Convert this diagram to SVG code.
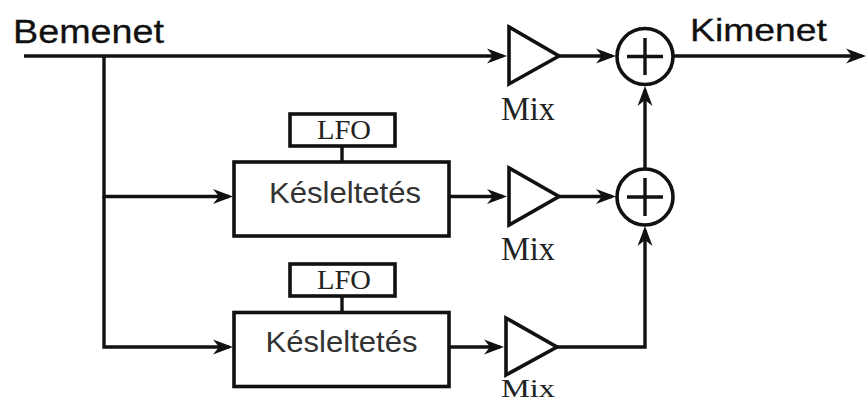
<svg xmlns="http://www.w3.org/2000/svg" width="866" height="403" viewBox="0 0 866 403">
<style>
.ln{fill:none;stroke:#111;stroke-width:3.4;stroke-linejoin:miter}
.arr{marker-end:url(#ah)}
.sh{fill:#fff;stroke:#111;stroke-width:3.6}
.head{font-family:"Liberation Sans",Arial,sans-serif;fill:#111;stroke:#111;stroke-width:.3}
.del{font-family:"Liberation Sans",Arial,sans-serif;font-size:30px;fill:#333}
.lfo{font-family:"Liberation Serif","Times New Roman",serif;font-size:28px;fill:#222}
.mix{font-family:"Liberation Serif","Times New Roman",serif;fill:#222}
.plus{stroke:#111;stroke-width:3.4;fill:none}
</style>
<defs>
<marker id="ah" markerUnits="userSpaceOnUse" markerWidth="22" markerHeight="18" refX="16" refY="9" orient="auto">
<path d="M0 1.500 L20 9 L0 16.500 L6 9 Z" fill="#111"/>
</marker>
</defs>
<rect width="866" height="403" fill="#fff"/>
<g id="connectors">
<path class="ln arr" d="M24 56H503"/>
<path class="ln arr" d="M104 56V196.500H229"/>
<path class="ln arr" d="M104 196.500V347H229"/>
<path class="ln" d="M342 146V162"/>
<path class="ln" d="M342 296V312"/>
<path class="ln arr" d="M449 196.500H503"/>
<path class="ln arr" d="M449 347H500"/>
<path class="ln arr" d="M559 56H612"/>
<path class="ln arr" d="M559 196.500H612"/>
<path class="ln arr" d="M673 56H862"/>
<path class="ln arr" d="M645 169V90"/>
<path class="ln arr" d="M557 347H645V230"/>
</g>
<g id="input-label"><text class="head" x="13" y="43" font-size="34" textLength="151" lengthAdjust="spacingAndGlyphs">Bemenet</text></g>
<g id="output-label"><text class="head" x="690" y="41" font-size="32" textLength="137" lengthAdjust="spacingAndGlyphs">Kimenet</text></g>
<g id="lfo1"><rect class="sh" x="290" y="114" width="105" height="32"/><text class="lfo" x="317" y="139" textLength="54" lengthAdjust="spacingAndGlyphs">LFO</text></g>
<g id="lfo2"><rect class="sh" x="290" y="264" width="105" height="32"/><text class="lfo" x="317" y="289" textLength="54" lengthAdjust="spacingAndGlyphs">LFO</text></g>
<g id="delay1"><rect class="sh" x="234" y="162" width="215" height="74"/><text class="del" x="269" y="203" textLength="152" lengthAdjust="spacingAndGlyphs">Késleltetés</text></g>
<g id="delay2"><rect class="sh" x="234" y="312.500" width="215" height="74"/><text class="del" x="265.500" y="352" textLength="152" lengthAdjust="spacingAndGlyphs">Késleltetés</text></g>
<g id="mix1"><path class="sh" d="M509 27V84L559 56Z"/><text class="mix" font-size="34" x="501" y="120" textLength="54" lengthAdjust="spacingAndGlyphs">Mix</text></g>
<g id="mix2"><path class="sh" d="M509 168V225L559 196.500Z"/><text class="mix" font-size="34" x="501" y="260" textLength="54" lengthAdjust="spacingAndGlyphs">Mix</text></g>
<g id="mix3"><path class="sh" d="M506 318V375L557 347Z"/><text class="mix" font-size="26" x="501" y="397" textLength="54" lengthAdjust="spacingAndGlyphs">Mix</text></g>
<g id="sum1"><circle class="sh" cx="645" cy="56.500" r="28"/><path class="plus" d="M627 56.500H663M645 38V75"/></g>
<g id="sum2"><circle class="sh" cx="645" cy="197" r="28"/><path class="plus" d="M627 197H663M645 178V216"/></g>
</svg>
